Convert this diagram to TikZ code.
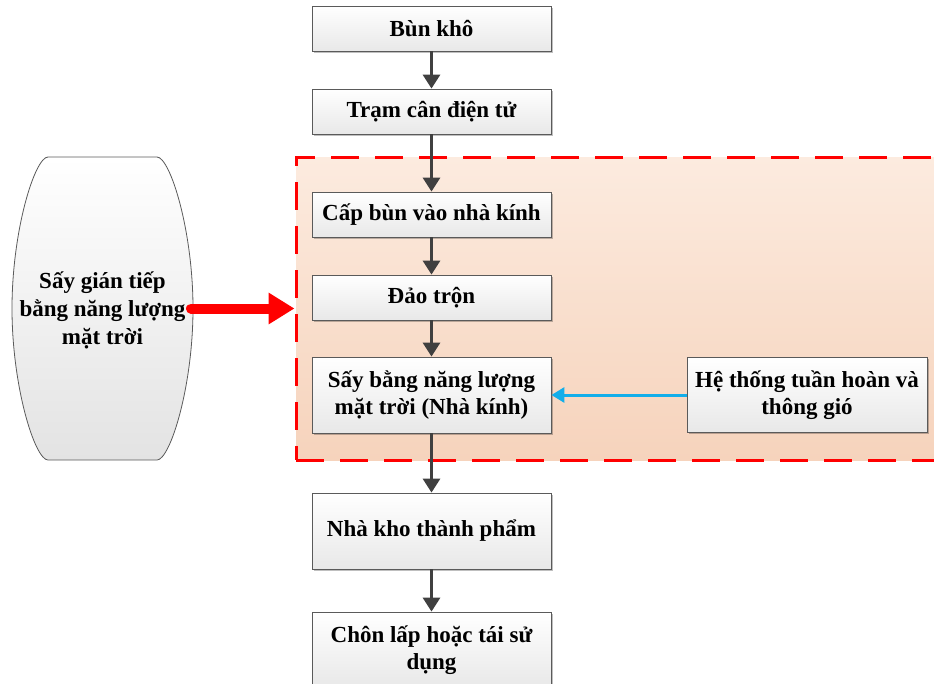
\documentclass[tikz,border=0pt]{standalone}
\usepackage{fontspec}
\setmainfont{Liberation Serif}
\usetikzlibrary{arrows.meta,shadows}
\definecolor{zonetop}{HTML}{FCEBDF}
\definecolor{zonebot}{HTML}{F6D3BC}
\definecolor{flowgray}{HTML}{404040}
\definecolor{boxline}{HTML}{5A5A5A}
\definecolor{bluearr}{HTML}{12AEEA}
\definecolor{redarr}{HTML}{FF0000}
\tikzset{
  procbox/.style={draw=boxline, line width=0.8pt, top color=white, bottom color=black!9,
    minimum width=239pt, align=center, inner sep=2pt,
    font=\fontsize{23}{27}\selectfont\bfseries,
    drop shadow={shadow xshift=1.5pt, shadow yshift=-1.5pt, fill=black, opacity=0.25}},
  flow/.style={draw=flowgray, line width=3pt, -{Triangle[length=14pt,width=17pt]}},
  bluearrow/.style={draw=bluearr, line width=3pt, -{Triangle[length=13pt,width=15pt]}},
  redarrow/.style={draw=redarr, line width=10pt, line cap=round, -{Triangle[length=26pt,width=30pt]}},
  zonebox/.style={draw=redarr, line width=3pt, dash pattern=on 28pt off 16pt,
    top color=zonetop, bottom color=zonebot, minimum width=650pt, minimum height=303pt},
  sunshape/.style={draw=boxline, line width=0.8pt, top color=white, bottom color=black!11},
}
\begin{document}
\begin{tikzpicture}[x=1pt,y=-1pt]
\useasboundingbox (0,0) rectangle (934,683);
\clip (0,0) rectangle (934,683);
% dashed zone
\node[zonebox] (zone) at (621,308.5) {};
% left shape
\path[sunshape] (48,157) -- (157,157)
  .. controls (170,157) and (193,230) .. (193,308.5)
  .. controls (193,387) and (170,460) .. (157,460)
  -- (48,460)
  .. controls (35,460) and (12,387) .. (12,308.5)
  .. controls (12,230) and (35,157) .. (48,157) -- cycle;
\node[align=center, font=\fontsize{23}{28}\selectfont\bfseries] (sun) at (102.5,310) {Sấy gián tiếp\\bằng năng lượng\\mặt trời};
\coordinate (sunE) at (191,308.5);
% process boxes
\node[procbox, minimum height=45pt] (b1) at (431.5,28.5) {Bùn khô};
\node[procbox, minimum height=45pt] (b2) at (431.5,111.5) {Trạm cân điện tử};
\node[procbox, minimum height=45pt] (b3) at (431.5,214.5) {Cấp bùn vào nhà kính};
\node[procbox, minimum height=45pt] (b4) at (431.5,297.5) {Đảo trộn};
\node[procbox, minimum height=76pt] (b5) at (431.5,395) {Sấy bằng năng lượng\\mặt trời (Nhà kính)};
\node[procbox, minimum height=76pt] (b6) at (431.5,531) {Nhà kho thành phẩm};
\node[procbox, minimum height=76pt] (b7) at (431.5,650) {Chôn lấp hoặc tái sử\\dụng};
\node[procbox, minimum width=240pt, minimum height=75pt] (h) at (807,395) {Hệ thống tuần hoàn và\\thông gió};
% connectors
\draw[flow] (b1) -- (b2);
\draw[flow] (b2) -- (b3);
\draw[flow] (b3) -- (b4);
\draw[flow] (b4) -- (b5);
\draw[flow] (b5) -- (b6);
\draw[flow] (b6) -- (b7);
\draw[bluearrow] (h.west) -- (b5.east);
\draw[redarrow] (sunE) -- (zone.west);
\end{tikzpicture}
\end{document}
